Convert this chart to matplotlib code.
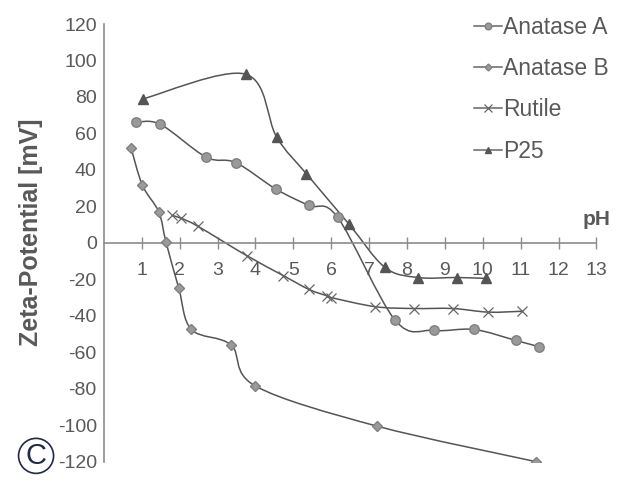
import matplotlib
matplotlib.use("Agg")
from matplotlib import pyplot as plt
from matplotlib.path import Path
from matplotlib.patches import PathPatch
from matplotlib.lines import Line2D

plt.rcParams['font.family'] = ['Liberation Sans', 'DejaVu Sans']
plt.rcParams['axes.unicode_minus'] = False

# data
anatase_a_ph = [0.84, 1.49, 2.70, 3.48, 4.54, 5.41, 6.17, 7.69, 8.70, 9.77, 10.87, 11.49]
anatase_a_zeta = [66, 65, 47, 44, 29.5, 20.5, 14, -42.5, -48, -47.5, -53.5, -57]

anatase_b_ph = [0.72, 1.02, 1.45, 1.64, 1.98, 2.31, 3.36, 4.0, 7.21, 11.41]
anatase_b_zeta = [52, 31.5, 17, 0.5, -25, -47.5, -56, -78.5, -100.5, -120]

rutile_ph = [1.80, 2.04, 2.49, 3.77, 4.74, 5.41, 5.88, 6.0, 7.16, 8.18, 9.21, 10.15, 11.04]
rutile_zeta = [15, 13.5, 9, -7, -18, -25.5, -29, -30, -35, -36, -36, -38, -37.5]

p25_ph = [1.04, 3.74, 4.56, 5.34, 6.46, 7.42, 8.30, 9.31, 10.08]
p25_zeta = [79, 92.5, 58, 38, 10.5, -13.5, -19, -19, -19.5]

x_ticks = list(range(1, 14))
y_ticks = list(range(-120, 121, 20))

TEXT = '#595959'
LINE = '#555555'
AXIS = '#8c8c8c'


def smooth_path(xs, ys):
    # excel-like smoothed line: cubic bezier, catmull-rom control points
    pts = list(zip(xs, ys))
    verts = [pts[0]]
    codes = [Path.MOVETO]
    n = len(pts)
    for i in range(n - 1):
        p0 = pts[i - 1] if i > 0 else pts[i]
        p1 = pts[i]
        p2 = pts[i + 1]
        p3 = pts[i + 2] if i + 2 < n else pts[i + 1]
        c1 = (p1[0] + (p2[0] - p0[0]) / 6, p1[1] + (p2[1] - p0[1]) / 6)
        c2 = (p2[0] - (p3[0] - p1[0]) / 6, p2[1] - (p3[1] - p1[1]) / 6)
        verts += [c1, c2, p2]
        codes += [Path.CURVE4] * 3
    return Path(verts, codes)


fig = plt.figure(figsize=(6.44, 4.86), dpi=100)
ax = fig.add_axes([0.1612, 0.05, 0.765, 0.9006])

series = [
    ('Anatase A', anatase_a_ph, anatase_a_zeta, dict(marker='o', ms=6.8, mfc='#9a9a9a', mec='#808080')),
    ('Anatase B', anatase_b_ph, anatase_b_zeta, dict(marker='D', ms=5, mfc='#9a9a9a', mec='#808080')),
    ('Rutile', rutile_ph, rutile_zeta, dict(marker='x', ms=7.5, mec='#666666', mew=0.9)),
    ('P25', p25_ph, p25_zeta, dict(marker='^', ms=6.5, mfc='#555555', mec='#555555')),
]

handles = []
for name, xs, ys, mk in series:
    ax.add_patch(PathPatch(smooth_path(xs, ys), fc='none', ec=LINE, lw=1.1, zorder=2))
    ax.plot(xs, ys, ls='none', zorder=3, **mk)
    small = dict(mk)
    small['ms'] = mk['ms'] * 0.7
    handles.append(Line2D([], [], color='#666666', lw=1.1, label=name, **small))

ax.set_xlim(0, 13)
ax.set_ylim(-120, 120)
ax.set_xticks(x_ticks)
ax.set_yticks(y_ticks)

for s in ['top', 'right']:
    ax.spines[s].set_visible(False)
ax.spines['bottom'].set_position(('data', 0))
ax.spines['bottom'].set_color(AXIS)
ax.spines['left'].set_color(AXIS)
ax.spines['bottom'].set_linewidth(1.2)
ax.spines['left'].set_linewidth(1.2)

ax.tick_params(axis='x', direction='inout', length=9, width=1.0, color=AXIS,
               labelsize=14, labelcolor=TEXT, pad=9)
ax.tick_params(axis='y', length=0, labelsize=14, labelcolor=TEXT, pad=5)

ax.set_ylabel('Zeta-Potential [mV]', fontsize=18, fontweight='bold', color=TEXT, va='center')
ax.yaxis.set_label_coords(-0.148, 0.524)
ax.text(13, 13, 'pH', fontsize=15, fontweight='bold', color=TEXT, ha='center', va='center')

ax.legend(handles=handles, loc='upper left', bbox_to_anchor=(0.733, 1.04), frameon=False,
          fontsize=16.5, labelcolor=TEXT, handlelength=1.2, handletextpad=0.05,
          labelspacing=0.8, borderaxespad=0)

fig.text(0.056, 0.062, 'C', fontsize=21, color='#1f2a4a', ha='center', va='center',
         bbox=dict(boxstyle='circle,pad=0.12', fc='none', ec='#1f2a4a', lw=1.2))

fig.savefig('out.png', dpi=100)
